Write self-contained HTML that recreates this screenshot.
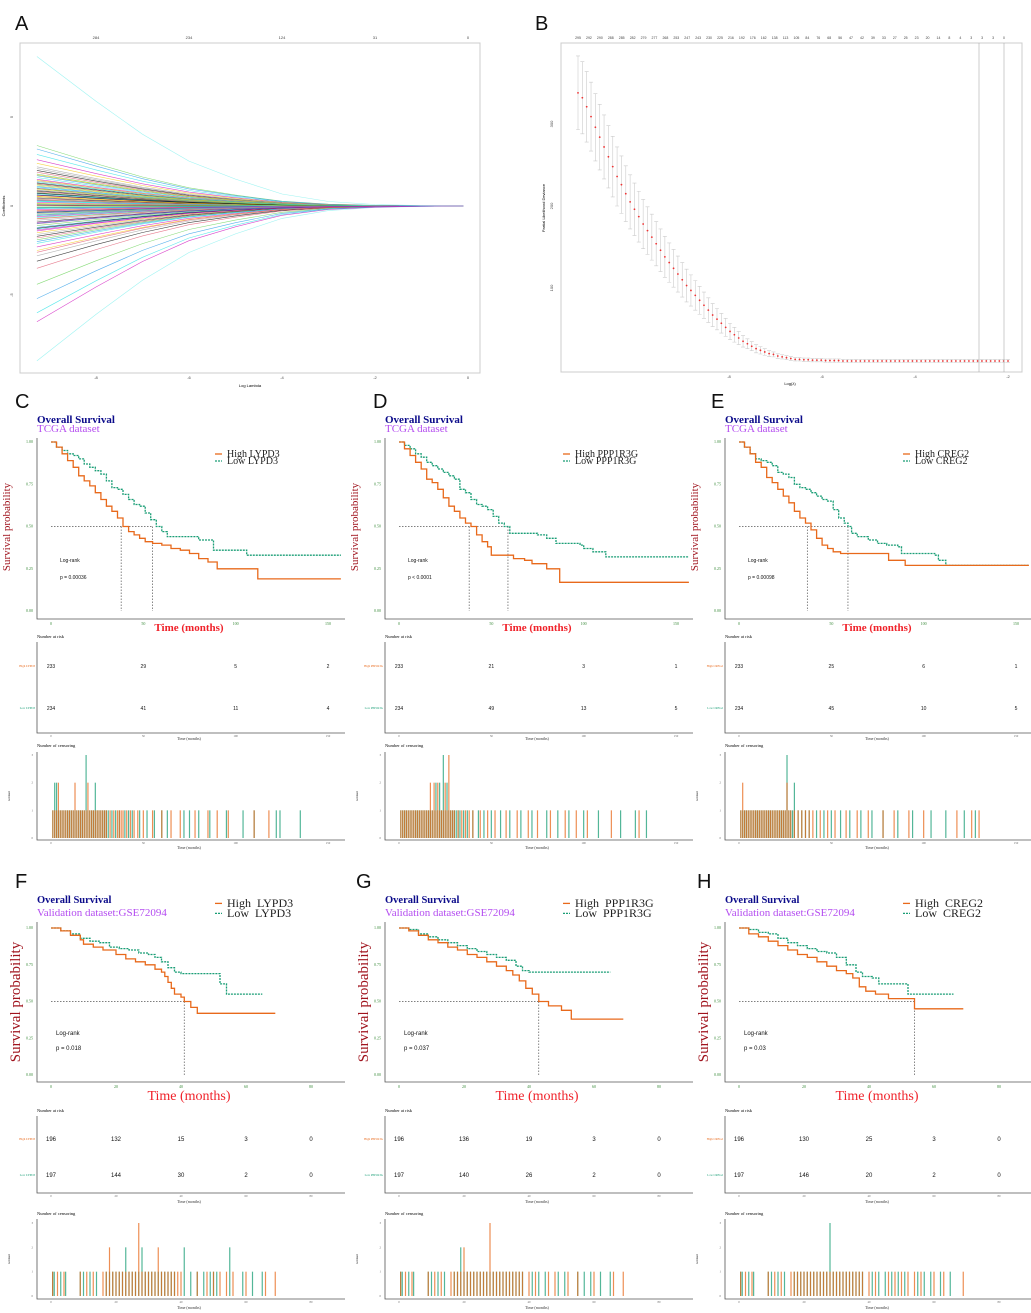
<!DOCTYPE html>
<html><head><meta charset="utf-8"><style>
html,body{margin:0;padding:0;background:#fff}
svg{display:block}
.sf{font-family:"Liberation Serif",serif}
.ss{font-family:"Liberation Sans",sans-serif}
</style></head><body>
<svg id="fig" width="1031" height="1313" viewBox="0 0 1031 1313" xmlns="http://www.w3.org/2000/svg"></svg>
<script>
// ---------- DATA ----------
const lassoStart=[8.4,-8.7,3.4,3.2,2.9,2.6,2.4,2.2,2.0,1.9,1.8,1.7,1.6,1.5,1.45,1.4,1.3,1.25,1.2,1.1,1.05,1.0,0.95,0.9,0.85,0.8,0.75,0.7,0.65,0.6,0.55,0.5,0.45,0.4,0.35,0.3,0.25,0.2,0.15,0.1,0.05,0.02,-0.05,-0.1,-0.15,-0.2,-0.25,-0.3,-0.35,-0.4,-0.45,-0.5,-0.55,-0.6,-0.7,-0.8,-0.9,-1.0,-1.1,-1.2,-1.3,-1.4,-1.5,-1.6,-1.7,-1.8,-1.9,-2.0,-2.1,-2.3,-2.5,-2.8,-3.1,-3.5,-4.4,-5.2,-6.0,-6.5,1.15,0.88,0.62,0.33,-0.08,-0.38,-0.66,-0.95,1.75,2.1,-1.25,-2.6,0.12,-0.12,0.28,-0.28,0.52,-0.52,0.72,-0.72,0.98,-0.98,1.35,-1.35];
const lassoLogLam=[-9.27,-8,-7,-6,-5,-4,-3,-2,-1,-0.1];
const lassoShrink=[1,0.7,0.48,0.3,0.18,0.08,0.03,0.01,0.003,0];
const lassoTopTicks=["284","234","124","31","0"];
const lassoXTicks=[-8,-6,-4,-2,0];
const lassoYTicks=[5,0,-5];
const cvMean=[338,332,321,309,296,284,272,260,248,236,226,215,205,196,187,178,170,162,154,146,138,131,124,117,110,103,97,91,85,79,73,67,62,57,52,47,43,39,35,32,29,26,24,22,20,19,17,16,15,14,13,13,12.5,12.5,12,12,12,11.5,11.5,11.5,11.5,11,11,11,11,11,11,11,11,11,11,11,11,11,11,11,11,11,11,11,11,11,11,11,11,11,11,11,11,11,11,11,11,11,11,11,11,11,11,11];
const cvErr=[45,44,43,42,41,40,39,38,37,36,35,34,33,32,31,30,29,28,27,26,25,24,23,22,21,20,19,18,17,16,15,14,13,12,11,10,9,8,7,6,5.5,5,4.5,4,3.5,3,2.8,2.6,2.4,2.2,2,2,2,2,2,2,2,2,2,2,2,2,2,2,2,2,2,2,2,2,2,2,2,2,2,2,2,2,2,2,2,2,2,2,2,2,2,2,2,2,2,2,2,2,2,2,2,2,2,2];
const cvTopTicks=["295","292","290","288","285","282","279","277","268","253","247","243","230","225","216","192","176","162","138","113","105","84","76","68","56","47","42","39","33","27","25","23","20","14","8","4","3","3","3","0"];
const cvYTicks=[100,200,300];
const cvXTicks=[-8,-6,-4,-2];
const kmC_high=[[0,1],[3,.97],[6,.93],[9,.89],[12,.85],[15,.8],[18,.77],[21,.74],[24,.7],[27,.66],[30,.62],[33,.59],[36,.55],[39,.5],[42,.47],[45,.45],[48,.43],[51,.41],[55,.4],[60,.39],[65,.37],[70,.36],[75,.34],[80,.31],[85,.29],[90,.25],[112,.25],[112,.19],[157,.19]];
const kmC_low=[[0,1],[3,.97],[6,.95],[9,.93],[12,.92],[15,.9],[18,.87],[21,.85],[24,.83],[27,.81],[30,.77],[33,.73],[36,.72],[39,.69],[42,.66],[45,.63],[48,.62],[51,.58],[54,.54],[57,.5],[60,.47],[63,.44],[75,.44],[80,.42],[88,.42],[88,.36],[106,.36],[106,.33],[157,.33]];
const kmD_high=[[0,1],[3,.96],[6,.92],[9,.88],[12,.84],[15,.78],[18,.76],[21,.72],[24,.67],[27,.62],[30,.59],[33,.55],[36,.52],[39,.5],[42,.45],[45,.41],[48,.38],[50,.33],[60,.33],[62,.31],[68,.3],[72,.28],[80,.25],[87,.17],[157,.17]];
const kmD_low=[[0,1],[3,.98],[6,.96],[9,.93],[12,.91],[15,.88],[18,.86],[21,.84],[24,.82],[27,.8],[30,.78],[33,.72],[36,.7],[39,.66],[42,.63],[45,.62],[48,.6],[51,.56],[54,.52],[57,.5],[60,.46],[75,.45],[80,.43],[85,.4],[98,.39],[100,.37],[105,.35],[112,.32],[157,.32]];
const kmE_high=[[0,1],[3,.97],[6,.93],[9,.88],[12,.85],[15,.79],[18,.76],[21,.72],[24,.68],[27,.64],[30,.59],[33,.55],[36,.52],[39,.48],[42,.43],[45,.39],[48,.37],[51,.35],[55,.34],[80,.34],[81,.3],[90,.27],[157,.27]];
const kmE_low=[[0,1],[3,.97],[6,.93],[9,.9],[12,.89],[15,.88],[18,.86],[21,.82],[24,.81],[27,.79],[30,.75],[33,.73],[36,.72],[39,.7],[42,.68],[45,.66],[48,.65],[51,.6],[54,.55],[57,.52],[59,.5],[61,.46],[64,.44],[70,.42],[75,.4],[80,.39],[86,.38],[88,.34],[106,.33],[108,.3],[112,.27],[157,.27]];
const kmF_high=[[0,1],[3,.98],[6,.95],[9,.92],[10,.89],[13,.87],[16,.85],[20,.82],[23,.79],[26,.77],[29,.75],[32,.72],[34,.7],[35,.67],[36,.63],[37,.59],[38,.55],[40,.53],[41,.5],[43,.46],[45,.42],[69,.42]];
const kmF_low=[[0,1],[3,.98],[6,.96],[9,.93],[12,.91],[15,.9],[18,.87],[21,.86],[24,.85],[27,.83],[30,.82],[32,.8],[34,.77],[36,.73],[38,.7],[40,.69],[52,.69],[52,.62],[54,.55],[65,.55]];
const kmG_high=[[0,1],[3,.98],[6,.95],[9,.92],[12,.9],[15,.87],[18,.85],[21,.82],[24,.8],[27,.77],[30,.74],[33,.71],[35,.68],[37,.64],[39,.59],[41,.55],[43,.5],[46,.47],[50,.44],[53,.38],[69,.38]];
const kmG_low=[[0,1],[3,.99],[6,.96],[9,.94],[12,.92],[15,.9],[18,.88],[21,.86],[24,.84],[27,.82],[30,.8],[33,.78],[36,.74],[38,.71],[40,.7],[65,.7]];
const kmH_high=[[0,1],[3,.96],[6,.94],[9,.91],[12,.88],[15,.85],[18,.82],[21,.8],[24,.77],[27,.74],[30,.71],[33,.69],[35,.66],[37,.6],[39,.57],[42,.55],[46,.52],[54,.51],[54,.45],[69,.45]];
const kmH_low=[[0,1],[3,.99],[6,.97],[9,.96],[12,.93],[15,.9],[18,.88],[21,.86],[24,.84],[27,.83],[30,.8],[33,.75],[36,.7],[38,.67],[41,.66],[43,.62],[52,.62],[52,.55],[66,.55]];
const medC=[38,55],medD=[38,59],medE=[37,59],medF=[41],medG=[43],medH=[54];
const riskC=[[233,29,5,2],[234,41,11,4]],riskD=[[233,21,3,1],[234,49,13,5]],riskE=[[233,25,6,1],[234,45,10,5]];
const riskF=[[196,132,15,3,0],[197,144,30,2,0]],riskG=[[196,136,19,3,0],[197,140,26,2,0]],riskH=[[196,130,25,3,0],[197,146,20,2,0]];
const pvals=["p = 0.00036","p < 0.0001","p = 0.00098","p = 0.018","p = 0.037","p = 0.03"];
const genes=["LYPD3","PPP1R3G","CREG2","LYPD3","PPP1R3G","CREG2"];
const tcgaTicks=[0,50,100,150],valTicks=[0,20,40,60,80],survTicks=[0,0.25,0.5,0.75,1];
const censC_high=[1,2,3,4,5,6,7,8,9,10,11,12,13,14,15,16,17,18,19,20,21,22,23,24,25,26,27,28,30,32,34,36,38,39,41,43,45,47,50,55,60,65,70,78,85,90,96,110,118,4,13,20,29,37];
const censC_low=[1,2,3,3,4,5,6,7,8,9,10,11,12,13,14,15,16,17,18,19,20,21,22,23,24,25,26,27,28,29,30,31,33,35,37,40,42,44,48,52,56,60,63,72,75,80,86,95,104,110,122,124,135,2,19,19,24];
const censD_high=[1,2,3,4,5,6,7,8,9,10,11,12,13,14,15,16,17,18,19,20,21,22,23,24,25,26,27,28,29,30,32,34,36,38,40,44,48,52,58,64,70,75,82,90,96,102,115,130,17,19,21,25,27,27];
const censD_low=[1,2,3,4,5,6,7,8,9,10,11,12,13,14,15,16,17,18,19,20,21,22,23,24,25,26,27,28,29,30,31,32,33,35,37,40,43,46,50,55,60,66,72,80,86,92,100,108,120,128,134,20,22,24,26,24];
const censE_high=[1,2,3,4,5,6,7,8,9,10,11,12,13,14,15,16,17,18,19,20,21,22,23,24,25,26,27,28,30,32,34,36,38,40,44,48,52,58,64,70,78,84,92,100,118,126,130,26,2];
const censE_low=[1,2,3,4,5,6,7,8,9,10,11,12,13,14,15,16,17,18,19,20,21,22,23,24,25,26,27,28,29,30,32,34,36,38,42,46,50,55,60,66,72,78,86,94,104,112,122,128,26,26,30];
const censF_high=[0.5,2,4,9,11,13,16,17,18,18,19,20,21,22,23,24,25,26,27,27,27,28,29,30,31,32,33,33,34,35,36,37,38,39,40,45,48,50,52,54,56,60,66,69];
const censF_low=[0.5,1,3,4.5,9,10,12,14,17,18,19,20,21,22,23,23,24,25,26,27,28,28,29,30,31,32,33,34,35,36,37,38,41,41,43,45,47,49,50,51,55,55,59,62,65];
const censG_high=[0.5,2,4,9,11,13,16,17,18,19,20,20,21,22,23,24,25,26,27,28,28,28,29,30,31,32,33,34,35,36,37,38,40,42,46,48,52,55,60,66,69];
const censG_low=[0.5,1,3,4.5,9,10,12,14,17,18,19,19,20,21,22,23,24,25,26,27,28,29,30,31,32,33,34,35,36,37,38,41,43,45,49,51,55,57,59,62,65];
const censH_high=[0.5,2,4,9,11,13,16,17,18,19,20,21,22,23,24,25,26,27,28,29,30,31,32,33,34,35,36,37,38,40,42,46,48,50,52,54,56,60,63,69];
const censH_low=[0.5,1,3,4.5,9,10,12,14,17,18,19,20,21,22,23,24,25,26,27,28,28,28,29,30,31,32,33,34,35,36,37,38,41,43,45,47,49,51,55,57,59,62,65];

// ---------- HELPERS ----------
const NS='http://www.w3.org/2000/svg';
const svg=document.getElementById('fig');
function el(tag,attrs,parent){const e=document.createElementNS(NS,tag);for(const k in attrs)e.setAttribute(k,attrs[k]);(parent||svg).appendChild(e);return e;}
function txt(x,y,s,attrs,parent){const e=el('text',Object.assign({x:x,y:y},attrs||{}),parent);e.textContent=s;return e;}
const ORANGE='#E8691B',GREEN='#1A9E76',TICKG='#3a8a3a';

[["A",15,30],["B",535,30],["C",15,408],["D",373,408],["E",711,408],["F",15,888],["G",356,888],["H",697,888]].forEach(function(a){
  const t=txt(a[1],a[2],a[0],{'font-size':20,'class':'ss',fill:'#111'});
  
  
});

// ---------- PANEL A ----------
(function(){
  const g=el('g',{});
  
  
  const xS=function(v){return 468+v*46.5;};
  const yS=function(v){return 206-v*17.8;};
  const box=el('rect',{x:20,y:43,width:460,height:330,fill:'none',stroke:'#ccc','stroke-width':1},g);
  
  
  const pal=['#000','#DF536B','#61D04F','#2297E6','#28E2E5','#CD0BBC','#F5C710','#9E9E9E'];
  lassoStart.forEach(function(s,i){
    let d='';
    lassoLogLam.forEach(function(l,j){d+=(j?'L':'M')+xS(l).toFixed(1)+','+yS(s*lassoShrink[j]).toFixed(1);});
    const p=el('path',{d:d,fill:'none',stroke:i<2?'#7ff0ee':pal[i%pal.length],'stroke-width':0.6,opacity:0.75},g);
    
    
  });
  lassoXTicks.forEach(function(v,i){
    txt(xS(v),379,String(v),{'font-size':4,'text-anchor':'middle','class':'ss',fill:'#444'},g);
    txt(xS(v),39,lassoTopTicks[i],{'font-size':4,'text-anchor':'middle','class':'ss',fill:'#444'},g);
  });
  lassoYTicks.forEach(function(v){
    txt(13,yS(v),String(v),{'font-size':4,'text-anchor':'middle','class':'ss',fill:'#444',transform:'rotate(-90 13 '+yS(v)+')'},g);
  });
  const xl=txt(250,387,'Log Lambda',{'font-size':4,'text-anchor':'middle','class':'ss'},g);
  
  
  const yl=txt(5,206,'Coefficients',{'font-size':4,'text-anchor':'middle','class':'ss',transform:'rotate(-90 5 206)'},g);
  
  
})();

// ---------- PANEL B ----------
(function(){
  const g=el('g',{});
  
  
  const n=cvMean.length;
  const xi=function(i){return 578+i*(1008-578)/(n-1);};
  const yS=function(v){return 370-v*0.82;};
  const box=el('rect',{x:561,y:43,width:461,height:329,fill:'none',stroke:'#ccc','stroke-width':1},g);
  
  
  cvMean.forEach(function(m,i){
    const x=xi(i),e=cvErr[i];
    const b=el('path',{d:'M'+x+','+yS(m+e)+'V'+yS(m-e)+'M'+(x-2)+','+yS(m+e)+'h4M'+(x-2)+','+yS(m-e)+'h4',stroke:'#ccc','stroke-width':0.6,fill:'none'},g);
    
    
    const c=el('circle',{cx:x,cy:yS(m),r:0.9,fill:'#e33'},g);
    
    
  });
  [979,1004].forEach(function(x){
    const l=el('line',{x1:x,x2:x,y1:43,y2:372,stroke:'#aaa','stroke-width':0.6},g);
    
    
  });
  cvTopTicks.forEach(function(s,i){
    txt(578+i*(1004-578)/(cvTopTicks.length-1),39,s,{'font-size':3.5,'text-anchor':'middle','class':'ss',fill:'#444'},g);
  });
  cvYTicks.forEach(function(v){
    txt(553,yS(v),String(v),{'font-size':4,'text-anchor':'middle','class':'ss',fill:'#444',transform:'rotate(-90 553 '+yS(v)+')'},g);
  });
  cvXTicks.forEach(function(v){
    txt(1008+(v+2)*46.5,378,String(v),{'font-size':4,'text-anchor':'middle','class':'ss',fill:'#444'},g);
  });
  const xl=txt(790,385,'Log(\u03bb)',{'font-size':4,'text-anchor':'middle','class':'ss'},g);
  
  
  const yl=txt(545,208,'Partial Likelihood Deviance',{'font-size':4,'text-anchor':'middle','class':'ss',transform:'rotate(-90 545 208)'},g);
  
  
})();

// ---------- KM PANELS ----------
const geoT={titleY:23,subY:32,fs:11,subFs:11,axTop:38,y1:42,y0:211,xAx:219,x0:51,xEnd:345,x1:328,maxT:150,tickY:225,timeY:231,timeFs:11,legY:[57,64],legFs:10,lrY:162,pY:179,spY:127,spFs:11,spX:10,
  riskLab:238,riskTop:242,rows:[266,308],riskBot:333,riskTime:340,censLab:347,censTop:352,censBot:440,c0:438,c3:355,censTime:449,numFs:5,lrFs:5,tickFs:4};
const geoV={titleY:18,subY:31,fs:10.5,subFs:11,axTop:37,y1:43,y0:190,xAx:197,x0:51,xEnd:345,x1:311,maxT:80,tickY:203,timeY:215,timeFs:14,legY:[22,32],legFs:12,lrY:150,pY:165,spY:117,spFs:15,spX:20,
  riskLab:227,riskTop:231,rows:[254,290],riskBot:308,riskTime:318,censLab:330,censTop:334,censBot:414,c0:411,c3:338,censTime:424,numFs:6,lrFs:6,tickFs:4};

function kmPanel(id,ox,oy,G,sub,gene,hi,lo,meds,risk,pv,censH,censL,ticks){
  const g=el('g',{transform:'translate('+ox+','+oy+')'});
  
  
  const xs2=function(t){return G.x0+t*(G.x1-G.x0)/G.maxT;};
  const yS=function(s){return G.y0-s*(G.y0-G.y1);};
  const t1=txt(37,G.titleY,'Overall Survival',{'font-size':G.fs,'font-weight':'bold',fill:'#0b0b8a','class':'sf'},g);
  
  
  const t2=txt(37,G.subY,sub,{'font-size':G.subFs,fill:'#b44cf0','class':'sf'},g);
  
  
  const ax=el('path',{d:'M37,'+G.axTop+'V'+G.xAx+'H'+G.xEnd,fill:'none',stroke:'#555','stroke-width':0.8},g);
  
  
  survTicks.forEach(function(s){
    txt(33,yS(s)+1,s.toFixed(2),{'font-size':G.tickFs,'text-anchor':'end',fill:TICKG,'class':'sf'},g);
  });
  ticks.forEach(function(t){
    txt(xs2(t),G.tickY,String(t),{'font-size':G.tickFs,'text-anchor':'middle',fill:TICKG,'class':'sf'},g);
  });
  const tl=txt(189,G.timeY,'Time (months)',{'font-size':G.timeFs,'text-anchor':'middle',fill:'#f0222a','class':'sf','font-weight':G.maxT==150?'bold':'normal'},g);
  
  
  const sp=txt(G.spX,G.spY,'Survival probability',{'font-size':G.spFs,'text-anchor':'middle',fill:'#a0141e','class':'sf',transform:'rotate(-90 '+G.spX+' '+G.spY+')'},g);
  
  
  const mmax=Math.max.apply(null,meds);
  const hl=el('line',{x1:xs2(0),x2:xs2(mmax),y1:yS(0.5),y2:yS(0.5),stroke:'#555','stroke-width':0.7,'stroke-dasharray':'1.5,1.5'},g);
  
  
  meds.forEach(function(m){
    const vl=el('line',{x1:xs2(m),x2:xs2(m),y1:yS(0.5),y2:yS(0),stroke:'#555','stroke-width':0.7,'stroke-dasharray':'1.5,1.5'},g);
    
    
  });
  [[lo,GREEN,'2,1','low'],[hi,ORANGE,'','high']].forEach(function(c){
    let d='';
    c[0].forEach(function(p,i){
      if(i===0)d='M'+xs2(p[0])+','+yS(p[1]);
      else d+='H'+xs2(p[0]).toFixed(1)+'V'+yS(p[1]).toFixed(1);
    });
    const path=el('path',{d:d,fill:'none',stroke:c[1],'stroke-width':1.3,'stroke-dasharray':c[2]},g);
    
    
  });
  [['High',ORANGE,''],['Low',GREEN,'2,1']].forEach(function(L,i){
    const y=G.legY[i];
    const ll=el('line',{x1:215,x2:222,y1:y-G.legFs*0.3,y2:y-G.legFs*0.3,stroke:L[1],'stroke-width':1.3,'stroke-dasharray':L[2]},g);
    
    
    const lt=txt(227,y,L[0]+(G.maxT==150?' ':'\u00a0 ')+gene,{'font-size':G.legFs,'class':'sf',fill:'#222'},g);
    
    
  });
  const lr=txt(G.maxT==150?60:56,G.lrY,'Log-rank',{'font-size':G.lrFs,'class':'ss',fill:'#111'},g);
  
  
  const pt=txt(G.maxT==150?60:56,G.pY,pv,{'font-size':G.lrFs,'class':'ss',fill:'#111'},g);
  
  
  const rl=txt(37,G.riskLab,'Number at risk',{'font-size':4.5,'class':'sf'},g);
  
  
  const rax=el('path',{d:'M37,'+G.riskTop+'V'+G.riskBot+'H'+G.xEnd,fill:'none',stroke:'#555','stroke-width':0.8},g);
  
  
  risk.forEach(function(row,r){
    const y=G.rows[r];
    txt(35,y+1,(r?'Low ':'High ')+gene,{'font-size':3,'text-anchor':'end','class':'sf',fill:r?GREEN:ORANGE},g);
    row.forEach(function(v,i){
      const nt=txt(xs2(ticks[i]),y+2,String(v),{'font-size':G.numFs,'text-anchor':'middle','class':'ss',fill:'#111'},g);
      
      
    });
  });
  ticks.forEach(function(t){
    txt(xs2(t),G.riskBot+4,String(t),{'font-size':3,'text-anchor':'middle','class':'sf',fill:'#666'},g);
    txt(xs2(t),G.censBot+4,String(t),{'font-size':3,'text-anchor':'middle','class':'sf',fill:'#666'},g);
  });
  txt(189,G.riskTime,'Time (months)',{'font-size':4,'text-anchor':'middle','class':'sf',fill:'#333'},g);
  const cl=txt(37,G.censLab,'Number of censoring',{'font-size':4.5,'class':'sf'},g);
  
  
  const cax=el('path',{d:'M37,'+G.censTop+'V'+G.censBot+'H'+G.xEnd,fill:'none',stroke:'#555','stroke-width':0.8},g);
  
  
  const cy=function(n){return G.c0-n*(G.c0-G.c3)/3;};
  [0,1,2,3].forEach(function(n){txt(33,cy(n)+1,String(n),{'font-size':3,'text-anchor':'end','class':'sf',fill:'#666'},g);});
  txt(10,(G.censTop+G.censBot)/2,'n.censor',{'font-size':3,'text-anchor':'middle','class':'sf',transform:'rotate(-90 10 '+((G.censTop+G.censBot)/2)+')'},g);
  txt(189,G.censTime,'Time (months)',{'font-size':4,'text-anchor':'middle','class':'sf',fill:'#333'},g);
  [[censL,GREEN],[censH,ORANGE]].forEach(function(c){
    const counts={};
    c[0].forEach(function(t){counts[t]=(counts[t]||0)+1;});
    Object.keys(counts).forEach(function(k){
      const x=xs2(+k);
      const b=el('line',{x1:x,x2:x,y1:cy(0),y2:cy(counts[k]),stroke:c[1],'stroke-width':1.2,opacity:0.75},g);
      
      
    });
  });
}
kmPanel('c',0,400,geoT,'TCGA dataset',genes[0],kmC_high,kmC_low,medC,riskC,pvals[0],censC_high,censC_low,tcgaTicks);
kmPanel('d',348,400,geoT,'TCGA dataset',genes[1],kmD_high,kmD_low,medD,riskD,pvals[1],censD_high,censD_low,tcgaTicks);
kmPanel('e',688,400,geoT,'TCGA dataset',genes[2],kmE_high,kmE_low,medE,riskE,pvals[2],censE_high,censE_low,tcgaTicks);
kmPanel('f',0,885,geoV,'Validation dataset:GSE72094',genes[3],kmF_high,kmF_low,medF,riskF,pvals[3],censF_high,censF_low,valTicks);
kmPanel('g',348,885,geoV,'Validation dataset:GSE72094',genes[4],kmG_high,kmG_low,medG,riskG,pvals[4],censG_high,censG_low,valTicks);
kmPanel('h',688,885,geoV,'Validation dataset:GSE72094',genes[5],kmH_high,kmH_low,medH,riskH,pvals[5],censH_high,censH_low,valTicks);
</script>
</body></html>
